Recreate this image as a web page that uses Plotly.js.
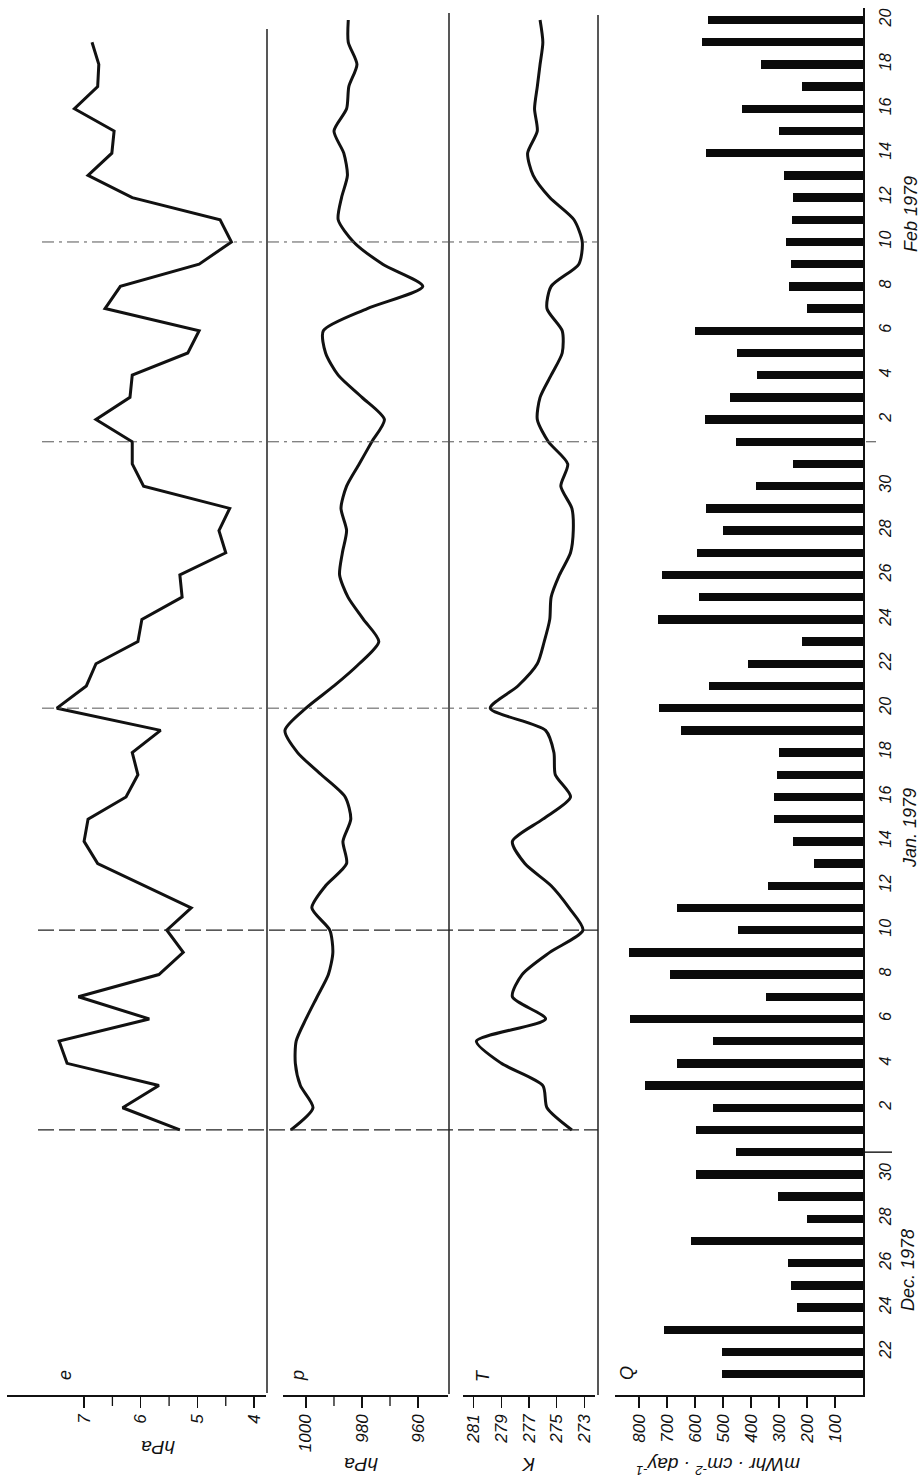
<!DOCTYPE html>
<html><head><meta charset="utf-8">
<script src="https://cdn.plot.ly/plotly-3.0.1.min.js"></script>
<style>html,body{margin:0;padding:0;background:#fff}#chart{width:924px;height:1477px}</style>
</head><body><div id="chart"></div>
<script>
// ---------- data ----------
const eDates = ['1979-01-01','1979-01-02','1979-01-03','1979-01-04','1979-01-05','1979-01-06','1979-01-07','1979-01-08','1979-01-09','1979-01-10',
'1979-01-11','1979-01-12','1979-01-13','1979-01-14','1979-01-15','1979-01-16','1979-01-17','1979-01-18','1979-01-19','1979-01-20',
'1979-01-21','1979-01-22','1979-01-23','1979-01-24','1979-01-25','1979-01-26','1979-01-27','1979-01-28','1979-01-29','1979-01-30','1979-01-31',
'1979-02-01','1979-02-02','1979-02-03','1979-02-04','1979-02-05','1979-02-06','1979-02-07','1979-02-08','1979-02-09','1979-02-10',
'1979-02-11','1979-02-12','1979-02-13','1979-02-14','1979-02-15','1979-02-16','1979-02-17','1979-02-18','1979-02-19'];
const eValues = [5.31,6.32,5.68,7.30,7.44,5.85,7.10,5.68,5.25,5.54,
5.11,5.95,6.76,7.00,6.93,6.26,6.05,6.15,5.65,7.48,
6.96,6.79,6.05,5.98,5.27,5.31,4.50,4.62,4.43,5.95,6.15,
6.15,6.79,6.19,6.15,5.17,4.97,6.63,6.36,4.97,4.40,
4.60,6.15,6.93,6.51,6.47,7.17,6.76,6.74,6.86];

const pDates = eDates.concat(['1979-02-20']);
const pValues = [1005.4,997.5,1002.0,1003.8,1003.5,1000.0,996.0,992.0,990.4,991.5,
997.9,993.0,985.5,986.8,984.0,986.0,994.5,1003.0,1007.5,1000.0,
990.0,981.0,974.0,979.5,985.0,988.0,987.0,985.5,987.5,985.5,981.0,
976.5,972.0,980.0,988.5,993.0,993.8,978.1,958.3,972.6,983.0,
988.5,987.3,985.2,986.5,990.0,985.5,984.7,981.8,984.9,984.9];

const tDates = pDates;
const tValues = [273.9,275.7,276.0,279.0,280.8,275.8,278.2,277.5,275.5,273.1,
274.1,275.4,277.3,278.2,276.0,274.0,275.1,275.2,275.8,279.8,
277.8,276.4,275.9,275.5,275.4,274.8,274.0,273.8,273.9,274.7,274.2,
275.6,276.4,276.2,275.4,274.6,274.6,275.7,275.4,273.4,273.15,
273.75,275.5,276.7,277.1,276.4,276.6,276.4,276.2,276.0,276.2];

const qDates = ['1978-12-21','1978-12-22','1978-12-23','1978-12-24','1978-12-25','1978-12-26','1978-12-27','1978-12-28','1978-12-29','1978-12-30','1978-12-31'].concat(pDates);
const qValues = [505,502,711,237,258,267,614,201,302,596,455,
598,537,779,663,537,832,348,688,836,448,
663,338,174,249,318,318,308,300,651,729,
549,412,218,733,587,719,594,501,560,381,250,
452,563,475,380,451,600,199,263,257,275,
255,249,281,562,299,431,219,364,574,552];

const tickDates = ['1978-12-22','1978-12-24','1978-12-26','1978-12-28','1978-12-30',
'1979-01-02','1979-01-04','1979-01-06','1979-01-08','1979-01-10','1979-01-12','1979-01-14','1979-01-16','1979-01-18','1979-01-20',
'1979-01-22','1979-01-24','1979-01-26','1979-01-28','1979-01-30',
'1979-02-02','1979-02-04','1979-02-06','1979-02-08','1979-02-10','1979-02-12','1979-02-14','1979-02-16','1979-02-18','1979-02-20'];
const tickLabels = ['22','24','26','28','30','2','4','6','8','10','12','14','16','18','20','22','24','26','28','30','2','4','6','8','10','12','14','16','18','20'];

const eTicks = [4,5,6,7];
const eMinor = [4.5,5.5,6.5];
const pTicks = [960,980,1000];
const pMinor = [970,990];
const tTicks = [273,275,277,279,281];
const qTicks = [100,200,300,400,500,600,700,800];

const refDashed = ['1979-01-01','1979-01-10'];
const refDashDot = ['1979-01-20','1979-02-01','1979-02-10'];
const monthSep = '1978-12-31';
const monthSepSmall = '1979-02-01';

// ---------- layout helpers ----------
const W = 924, H = 1477;
const px = x => x / W, py = y => 1 - y / H;
const FONT = 'Liberation Sans, Arial, sans-serif';
const ink = '#111';
const tf = s => ({family: FONT, size: s, color: ink, style: 'italic'});

function xax(d0, d1, range, tv) {
  return {domain: [px(d0), px(d1)], range: range, anchor: 'y', showline: true, linecolor: ink, linewidth: 1.6,
    ticks: 'outside', ticklen: 11, tickwidth: 1.3, tickcolor: ink, tickmode: 'array', tickvals: tv, ticktext: tv.map(String),
    tickangle: -90, tickfont: tf(17), showgrid: false, zeroline: false, fixedrange: true};
}

const eRange = [8.36, 3.79], pRange = [1008.2, 949.3];

const traces = [
  {type: 'scatter', mode: 'lines', x: eValues, y: eDates, xaxis: 'x', yaxis: 'y', line: {color: ink, width: 3}, hoverinfo: 'skip'},
  {type: 'scatter', mode: 'lines', x: pValues, y: pDates, xaxis: 'x2', yaxis: 'y', line: {color: ink, width: 3, shape: 'spline', smoothing: 0.7}, hoverinfo: 'skip'},
  {type: 'scatter', mode: 'lines', x: tValues, y: tDates, xaxis: 'x3', yaxis: 'y', line: {color: ink, width: 3, shape: 'spline', smoothing: 0.7}, hoverinfo: 'skip'},
  {type: 'bar', orientation: 'h', x: qValues, y: qDates, xaxis: 'x4', yaxis: 'y', width: 0.38 * 86400000, marker: {color: '#0a0a0a', line: {width: 0}}, hoverinfo: 'skip'}
];

const shapes = [];
// minor ticks (half-unit marks) on the e and p value axes, placed through the axes' own scales
const axisBottom = py(1395);
eMinor.forEach(v => shapes.push({type: 'line', xref: 'x', yref: 'paper', x0: v, x1: v, y0: axisBottom, y1: axisBottom - 11 / H, line: {color: ink, width: 1.3}}));
pMinor.forEach(v => shapes.push({type: 'line', xref: 'x2', yref: 'paper', x0: v, x1: v, y0: axisBottom, y1: axisBottom - 11 / H, line: {color: ink, width: 1.3}}));
// panel separators
[[267, 1393, 29], [449, 1394, 13], [598, 1395, 15]].forEach(s => {
  shapes.push({type: 'line', xref: 'paper', yref: 'paper', x0: px(s[0]), x1: px(s[0]), y0: py(s[1]), y1: py(s[2]), line: {color: ink, width: 1.4}});
});
refDashed.forEach(d => shapes.push({type: 'line', xref: 'paper', yref: 'y', x0: px(38), x1: px(598), y0: d, y1: d, line: {color: '#222', width: 1.3, dash: '16px,5px'}}));
refDashDot.forEach(d => shapes.push({type: 'line', xref: 'paper', yref: 'y', x0: px(42), x1: px(598), y0: d, y1: d, line: {color: '#555', width: 1, dash: '12px,5px,3px,5px'}}));
shapes.push({type: 'line', xref: 'paper', yref: 'y', x0: px(863), x1: px(892), y0: monthSep, y1: monthSep, line: {color: ink, width: 1.4}});
shapes.push({type: 'line', xref: 'paper', yref: 'y', x0: px(866), x1: px(876), y0: monthSepSmall, y1: monthSepSmall, line: {color: '#444', width: 1}});

const ann = (text, x, y, size, angle) => ({text: text, xref: 'paper', yref: 'paper', x: px(x), y: py(y), xanchor: 'center', yanchor: 'middle', showarrow: false, textangle: angle, font: tf(size)});
const annotations = [
  ann('e', 65, 1375, 18, -90), ann('p', 298, 1376, 18, -90), ann('T', 483, 1376, 18, -90), ann('Q', 627, 1373, 18, -90),
  ann('Dec. 1978', 908, 1270, 18, -90), ann('Jan. 1979', 910, 828, 18, -90), ann('Feb 1979', 911, 214, 18, -90),
  ann('hPa', 158, 1448, 19, 180), ann('hPa', 361, 1465, 19, 180), ann('K', 528, 1465, 19, 180),
  ann('mWhr · cm<sup>-2</sup> · day<sup>-1</sup>', 718, 1466, 19, 180)
];

const layout = {
  width: W, height: H, margin: {l: 0, r: 0, t: 0, b: 0}, paper_bgcolor: '#fff', plot_bgcolor: 'rgba(0,0,0,0)',
  showlegend: false, bargap: 0,
  xaxis: xax(7, 266, eRange, eTicks),
  xaxis2: xax(283, 448, pRange, pTicks),
  xaxis3: xax(463, 595, [281.77, 272.23], tTicks),
  xaxis4: xax(615, 863, [886, 0], qTicks),
  yaxis: {type: 'date', domain: [py(1395), py(8)], range: ['1978-12-20 01:26', '1979-02-20 12:58'], anchor: 'x4', side: 'right',
    showline: true, linecolor: ink, linewidth: 1.6, ticks: '', tickmode: 'array', tickvals: tickDates, ticktext: tickLabels,
    tickangle: -90, ticklabelstandoff: 7, tickfont: tf(16), showgrid: false, zeroline: false, fixedrange: true},
  shapes: shapes, annotations: annotations
};

Plotly.newPlot('chart', traces, layout, {staticPlot: true, displayModeBar: false});
</script>
</body></html>
